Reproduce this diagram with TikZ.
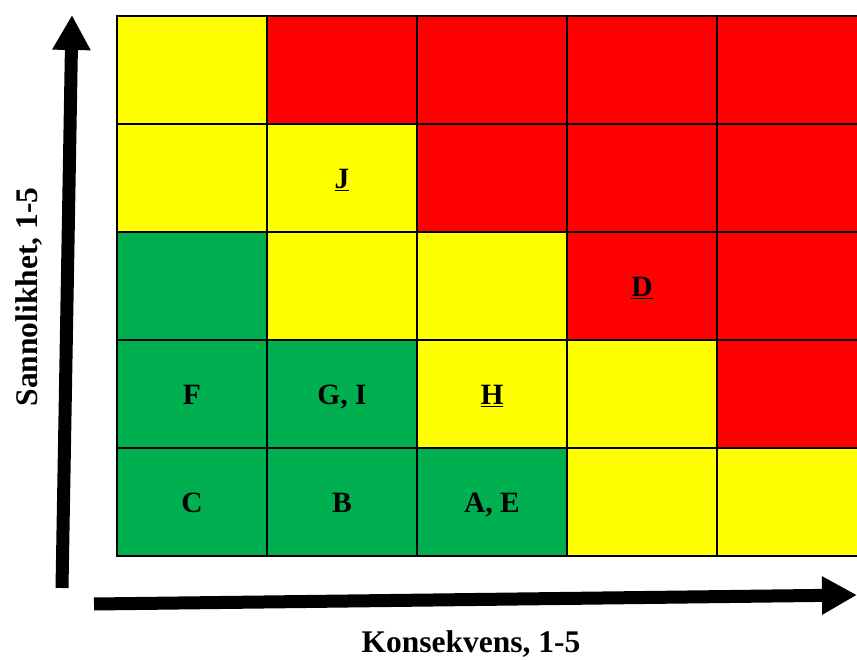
\documentclass[tikz,border=0pt]{standalone}
\usepackage{fontspec}
\setmainfont{Liberation Serif}
\usetikzlibrary{arrows.meta}
\definecolor{riskgreen}{HTML}{00B050}
\definecolor{riskyellow}{HTML}{FFFF00}
\definecolor{riskred}{HTML}{FF0000}
\begin{document}
\begin{tikzpicture}[
x=1pt, y=1pt,
cell/.style={draw, line width=1.2pt, minimum width=150pt, minimum height=108pt, inner sep=0pt},
evlabel/.style={font=\bfseries\fontsize{29.5}{29.5}\selectfont, anchor=base, yshift=-11pt},
axislabel/.style={font=\bfseries\fontsize{31.5}{31.5}\selectfont, anchor=base},
axis/.style={line width=13pt, -{Triangle[width=36pt, length=35pt]}}
]
\useasboundingbox (0,0) rectangle (857,659);
% risk matrix, row 5 on top
\foreach \r/\fills in {5/{riskyellow,riskred,riskred,riskred,riskred},
                       4/{riskyellow,riskyellow,riskred,riskred,riskred},
                       3/{riskgreen,riskyellow,riskyellow,riskred,riskred},
                       2/{riskgreen,riskgreen,riskyellow,riskyellow,riskred},
                       1/{riskgreen,riskgreen,riskgreen,riskyellow,riskyellow}}
  \foreach \f [count=\c] in \fills
    \node[cell, fill=\f] (cell-\c-\r) at ({42+150*\c}, {589-108*(5-\r)}) {};

% events
\node[evlabel] (ev-J) at (cell-2-4) {\underline{J}};
\node[evlabel] (ev-D) at (cell-4-3) {\underline{D}};
\node[evlabel] (ev-F) at (cell-1-2) {F};
\node[evlabel] (ev-GI) at (cell-2-2) {G, I};
\node[evlabel] (ev-H) at (cell-3-2) {\underline{H}};
\node[evlabel] (ev-C) at (cell-1-1) {C};
\node[evlabel] (ev-B) at (cell-2-1) {B};
\node[evlabel] (ev-AE) at (cell-3-1) {A, E};

% axes
\coordinate (y0) at (62,71);
\coordinate (y1) at (72,644);
\coordinate (x0) at (94,55);
\coordinate (x1) at (857,64);
\draw[axis] (y0) -- (y1);
\draw[axis] (x0) -- (x1);
\node[axislabel] (xlab) at (471,7) {Konsekvens, 1-5};
\node[axislabel, rotate=90] (ylab) at (37,362) {Sannolikhet, 1-5};
\end{tikzpicture}
\end{document}
